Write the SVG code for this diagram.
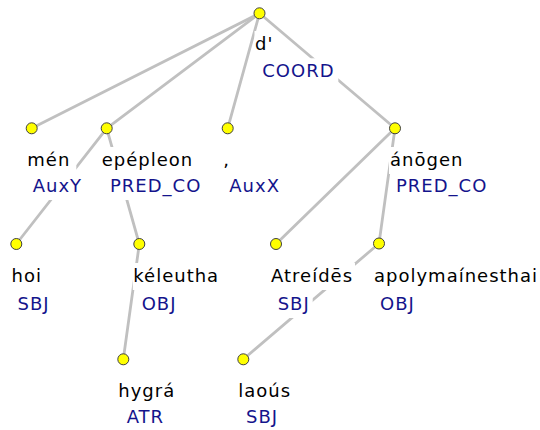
<svg xmlns="http://www.w3.org/2000/svg" width="540" height="430" viewBox="0 0 540 430">
<style>
.e{stroke:#c0c0c0;stroke-width:2.8;fill:none;stroke-linecap:round}
.n{fill:#ffff00;stroke:#404040;stroke-width:1}
.bg{fill:#ffffff}
text{font-family:"DejaVu Sans",Verdana,sans-serif;font-size:18px;letter-spacing:1px}
.w{fill:#000000}
.l{fill:#14148c}
</style>
<rect width="540" height="430" fill="#ffffff"/>
<g id="edges">
<line class="e" x1="259.5" y1="13.3" x2="31.7" y2="128.3"/>
<line class="e" x1="259.5" y1="13.3" x2="106.7" y2="128.3"/>
<line class="e" x1="259.5" y1="13.3" x2="227.7" y2="128.3"/>
<line class="e" x1="259.5" y1="13.3" x2="395" y2="128.3"/>
<line class="e" x1="106.7" y1="128.3" x2="16.3" y2="244"/>
<line class="e" x1="106.7" y1="128.3" x2="139.3" y2="244"/>
<line class="e" x1="139.3" y1="244" x2="123.3" y2="359.3"/>
<line class="e" x1="395" y1="128.3" x2="276" y2="244"/>
<line class="e" x1="395" y1="128.3" x2="379" y2="243.5"/>
<line class="e" x1="379" y1="243.5" x2="243.3" y2="359.3"/>
</g>
<g id="n-root">
<rect class="bg" x="254.5" y="31" width="20" height="27"/>
<rect class="bg" x="261.3" y="58.3" width="77" height="27"/>
<circle class="n" cx="259.5" cy="13.3" r="5.5"/>
<text class="w" x="255" y="50">d'</text>
<text class="l" x="262.3" y="77.3">COORD</text>
</g>
<g id="n-men">
<rect class="bg" x="26.3" y="147" width="50" height="27"/>
<rect class="bg" x="31.7" y="173" width="53" height="27"/>
<circle class="n" cx="31.7" cy="128.3" r="5.5"/>
<text class="w" x="27.3" y="166">mén</text>
<text class="l" x="32.7" y="192">AuxY</text>
</g>
<g id="n-epepleon">
<rect class="bg" x="100.7" y="147" width="95" height="27"/>
<rect class="bg" x="109" y="173" width="95" height="27"/>
<circle class="n" cx="106.7" cy="128.3" r="5.5"/>
<text class="w" x="101.7" y="166">epépleon</text>
<text class="l" x="110" y="192">PRED_CO</text>
</g>
<g id="n-comma">
<rect class="bg" x="222.3" y="147" width="10" height="27"/>
<rect class="bg" x="228.3" y="173" width="54" height="27"/>
<circle class="n" cx="227.7" cy="128.3" r="5.5"/>
<text class="w" x="223.3" y="166">,</text>
<text class="l" x="229.3" y="192">AuxX</text>
</g>
<g id="n-anogen">
<rect class="bg" x="389" y="147" width="77" height="27"/>
<rect class="bg" x="395" y="173" width="95" height="27"/>
<circle class="n" cx="395" cy="128.3" r="5.5"/>
<text class="w" x="390" y="166">ánōgen</text>
<text class="l" x="396" y="192">PRED_CO</text>
</g>
<g id="n-hoi">
<rect class="bg" x="10.5" y="263" width="34" height="27"/>
<rect class="bg" x="16.5" y="291" width="36" height="27"/>
<circle class="n" cx="16.3" cy="244" r="5.5"/>
<text class="w" x="11.5" y="282">hoi</text>
<text class="l" x="17.5" y="310">SBJ</text>
</g>
<g id="n-keleutha">
<rect class="bg" x="132.8" y="263" width="90" height="27"/>
<rect class="bg" x="140.7" y="291" width="38" height="27"/>
<circle class="n" cx="139.3" cy="244" r="5.5"/>
<text class="w" x="133.3" y="282">kéleutha</text>
<text class="l" x="141.7" y="310">OBJ</text>
</g>
<g id="n-atreides">
<rect class="bg" x="270" y="263" width="85" height="27"/>
<rect class="bg" x="276.7" y="291" width="36" height="27"/>
<circle class="n" cx="276" cy="244" r="5.5"/>
<text class="w" x="271" y="282">Atreídēs</text>
<text class="l" x="277.7" y="310">SBJ</text>
</g>
<g id="n-apolymainesthai">
<rect class="bg" x="373" y="263" width="167" height="27"/>
<rect class="bg" x="379" y="291" width="38" height="27"/>
<circle class="n" cx="379" cy="243.5" r="5.5"/>
<text class="w" x="374" y="282">apolymaínesthai</text>
<text class="l" x="380" y="310">OBJ</text>
</g>
<g id="n-hygra">
<rect class="bg" x="117.3" y="378.3" width="60" height="27"/>
<rect class="bg" x="125.7" y="404.3" width="42" height="27"/>
<circle class="n" cx="123.3" cy="359.3" r="5.5"/>
<text class="w" x="118.3" y="397.3">hygrá</text>
<text class="l" x="126.7" y="423.3">ATR</text>
</g>
<g id="n-laous">
<rect class="bg" x="237.3" y="378.3" width="56" height="27"/>
<rect class="bg" x="245" y="404.3" width="36" height="27"/>
<circle class="n" cx="243.3" cy="359.3" r="5.5"/>
<text class="w" x="238.3" y="397.3">laoús</text>
<text class="l" x="246" y="423.3">SBJ</text>
</g>
</svg>
